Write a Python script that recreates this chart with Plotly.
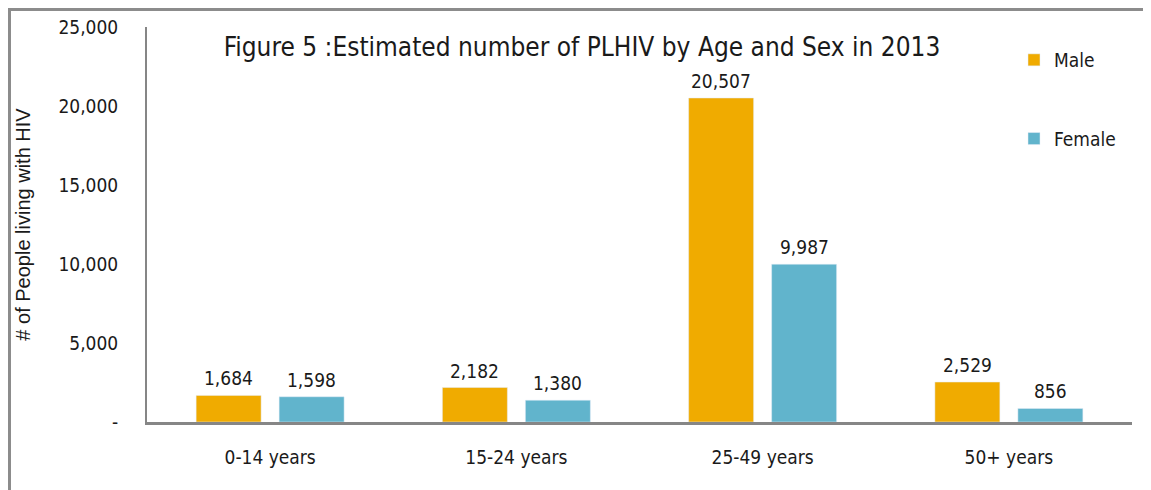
import plotly.graph_objects as go

categories = ["0-14 years", "15-24 years", "25-49 years", "50+ years"]
male = [1684, 2182, 20507, 2529]
female = [1598, 1380, 9987, 856]
y_tickvals = [0, 5000, 10000, 15000, 20000, 25000]
y_ticktext = ["-", "5,000", "10,000", "15,000", "20,000", "25,000"]

FONT = "DejaVu Sans Condensed, DejaVu Sans, sans-serif"
AXIS_GRAY = "#868686"
TXT = "#1a1a1a"
FS = 19

# page has an 8px body margin; figure is sized to fit the window
OFF = 8
W, H = 1151 - OFF, 490 - OFF
# plot area in page pixels: x 147..1132, y 27..422
L, R = 147 - OFF, 1151 - 1132
T, B = 27 - OFF, (490 - OFF) - (422 - OFF)
pw, ph = W - L - R, H - T - B

def px_x(px):
    return (px - OFF - L) / pw

def px_y(py):
    return (H - B - (py - OFF)) / ph

bargap, bargroupgap = 0.326, 0.217
slot_px = pw / len(categories) * (1 - bargap) / 2

fig = go.Figure()
fig.add_trace(go.Bar(x=categories, y=male, name="Male", legendgroup="m",
                     marker=dict(color="#F0AB00")))
fig.add_trace(go.Bar(x=categories, y=female, name="Female", legendgroup="f",
                     marker=dict(color="#61B4CC")))

annotations = []
for vals, sh in ((male, -slot_px / 2), (female, slot_px / 2)):
    for c, v in zip(categories, vals):
        annotations.append(dict(
            x=c, y=v, xref="x", yref="y", text=f"{v:,}", showarrow=False,
            xshift=sh, yshift=4, yanchor="bottom",
            font=dict(size=FS, family=FONT, color=TXT),
        ))

fig.update_layout(
    width=W, height=H,
    margin=dict(l=L, r=R, t=T, b=B, autoexpand=False),
    paper_bgcolor="white", plot_bgcolor="white",
    font=dict(family=FONT, size=FS, color=TXT),
    barmode="group", bargap=bargap, bargroupgap=bargroupgap,
    title=dict(
        text="Figure 5 :Estimated number of PLHIV by Age and Sex in 2013",
        x=px_x(582), xref="paper", xanchor="center",
        y=1 - (47 - OFF) / H, yref="container", yanchor="middle",
        font=dict(size=26, family=FONT, color=TXT),
    ),
    showlegend=True,
    legend=dict(
        x=px_x(1014), xanchor="left", y=px_y(41), yanchor="top",
        font=dict(size=FS, family=FONT, color=TXT),
        tracegroupgap=51, bgcolor="rgba(0,0,0,0)",
    ),
    xaxis=dict(
        showline=True, linecolor=AXIS_GRAY, linewidth=3,
        ticks="", showgrid=False, zeroline=False,
        tickfont=dict(size=FS, family=FONT, color=TXT),
        ticklabelstandoff=16,
    ),
    yaxis=dict(
        range=[0, 25000],
        tickvals=y_tickvals, ticktext=y_ticktext,
        showline=True, linecolor=AXIS_GRAY, linewidth=2,
        ticks="", showgrid=False, zeroline=False,
        tickfont=dict(size=FS, family=FONT, color=TXT),
        ticklabelstandoff=23,
        title=dict(text="# of People living with HIV",
                   font=dict(size=20, family="Liberation Sans, Arial, sans-serif", color=TXT),
                   standoff=22),
    ),
    annotations=annotations,
    shapes=[
        dict(type="line", xref="paper", yref="paper",
             x0=px_x(9.5), x1=px_x(9.5), y0=px_y(9.5), y1=px_y(500),
             line=dict(color="#8c8c8c", width=3)),
        dict(type="line", xref="paper", yref="paper",
             x0=px_x(8), x1=px_x(1170), y0=px_y(9.5), y1=px_y(9.5),
             line=dict(color="#8c8c8c", width=3)),
    ],
)

fig.write_html("out.html")
